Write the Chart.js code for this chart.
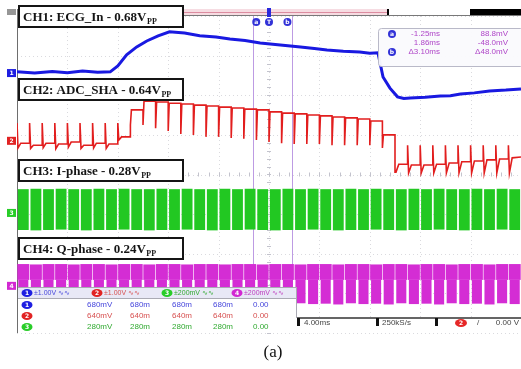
<!DOCTYPE html>
<html>
<head>
<meta charset="utf-8">
<script src="https://cdn.jsdelivr.net/npm/chart.js@4.4.0/dist/chart.umd.min.js"></script>
<style>
  html, body { margin: 0; padding: 0; background: #fff; }
  #wrap { width: 521px; height: 369px; position: relative; }
</style>
</head>
<body>
<div id="wrap"><canvas id="scope"></canvas></div>
<script>
// time in ms (4 ms/div, trigger at 0), vertical in screen divisions from centre

// CH1 ECG_In
const ch1Time = [-20, -18.6, -17.2, -16, -14.8, -13.6, -12.6, -12.0, -11.3, -10.5, -9.7, -8.8, -7.9, -6.7, -5.5, -4.2, -3.1, -1.9, -0.7, 0.9,
                 2.5, 3.6, 4.6, 5.9, 7.2, 8.0, 8.65, 9.05, 9.6, 10.2, 10.7, 11.2, 12.4, 13.6, 14.4, 15.2, 16.3, 17.5, 18.8, 20];
const ch1Div = [2.59, 2.56, 2.60, 2.57, 2.61, 2.58, 2.59, 2.74, 3.02, 3.22, 3.37, 3.50, 3.60, 3.57, 3.50, 3.47, 3.42, 3.38, 3.32, 3.27,
                3.22, 3.18, 3.14, 3.11, 3.09, 3.06, 3.07, 2.46, 2.18, 1.96, 1.92, 1.93, 1.95, 1.98, 1.99, 2.03, 2.06, 2.11, 2.13, 2.16];

// sample instants (1 kHz) shared by CH2 .. CH4
const sampleTime = [-20, -19, -18, -17, -16, -15, -14, -13, -12, -11, -10, -9, -8, -7, -6, -5, -4, -3, -2, -1,
                    0, 1, 2, 3, 4, 5, 6, 7, 8, 9, 10, 11, 12, 13, 14, 15, 16, 17, 18, 19];

// CH2 ADC_SHA: held level, spike tip, dip just after the spike
const ch2Level = [0.79, 0.74, 0.79, 0.77, 0.82, 0.74, 0.79, 0.77, 0.95, 1.63, 1.85, 1.83, 1.80, 1.78, 1.75, 1.73, 1.70, 1.68, 1.65, 1.63,
                  1.58, 1.55, 1.53, 1.50, 1.48, 1.45, 1.43, 1.40, 1.35, 1.00, 0.26, 0.24, 0.24, 0.26, 0.29, 0.32, 0.34, 0.37, 0.39, 0.42];
const ch2Spike = [1.30, 1.30, 1.30, 1.30, 1.30, 1.30, 1.30, 1.30, 1.30, 1.25, 1.25, 1.17, 1.10, 1.02, 1.00, 0.95, 0.95, 0.92, 0.90, 0.87,
                  0.82, 0.79, 0.77, 0.77, 0.77, 0.74, 0.74, 0.74, 0.74, 0.67, 0.06, 0.74, 0.74, 0.74, 0.74, 0.74, 0.74, 0.74, 0.74, 0.74];
const ch2Dip = [0.67, 0.66, 0.68, 0.65, 0.69, 0.66, 0.67, 0.66, 0.87, 1.63, 1.85, 1.83, 1.80, 1.78, 1.75, 1.73, 1.70, 1.68, 1.65, 1.63,
                1.58, 1.55, 1.53, 1.50, 1.48, 1.45, 1.43, 1.40, 1.35, 1.00, 0.06, 0.04, 0.04, 0.04, 0.04, 0.04, 0.04, 0.04, 0.04, 0.04];
const ch2End = 0.44;

// CH3 I-phase burst envelope
const ch3Hi = [-0.37, -0.36, -0.37, -0.36, -0.37, -0.37, -0.36, -0.37, -0.36, -0.37, -0.37, -0.36, -0.37, -0.36, -0.37, -0.37, -0.36, -0.37, -0.36, -0.37,
               -0.37, -0.36, -0.37, -0.36, -0.37, -0.37, -0.36, -0.37, -0.36, -0.37, -0.37, -0.36, -0.37, -0.36, -0.37, -0.37, -0.36, -0.37, -0.36, -0.37];
const ch3Lo = [-1.40, -1.41, -1.40, -1.39, -1.40, -1.41, -1.40, -1.40, -1.39, -1.40, -1.41, -1.40, -1.40, -1.39, -1.40, -1.41, -1.40, -1.40, -1.39, -1.40,
               -1.41, -1.40, -1.40, -1.39, -1.40, -1.41, -1.40, -1.40, -1.39, -1.40, -1.41, -1.40, -1.40, -1.39, -1.40, -1.41, -1.40, -1.40, -1.39, -1.40];

// CH4 Q-phase burst envelope (upper dense part, lower part)
const ch4Hi = [-2.26, -2.27, -2.26, -2.26, -2.27, -2.26, -2.26, -2.27, -2.26, -2.26, -2.27, -2.26, -2.26, -2.27, -2.26, -2.26, -2.27, -2.26, -2.26, -2.27,
               -2.26, -2.26, -2.27, -2.26, -2.26, -2.27, -2.26, -2.26, -2.27, -2.26, -2.26, -2.27, -2.26, -2.26, -2.27, -2.26, -2.26, -2.27, -2.26, -2.26];
const ch4Mid = [-2.66, -2.66, -2.66, -2.66, -2.66, -2.66, -2.66, -2.66, -2.66, -2.66, -2.66, -2.66, -2.66, -2.66, -2.66, -2.66, -2.66, -2.66, -2.66, -2.66,
                -2.66, -2.66, -2.66, -2.66, -2.66, -2.66, -2.66, -2.66, -2.66, -2.66, -2.66, -2.66, -2.66, -2.66, -2.66, -2.66, -2.66, -2.66, -2.66, -2.66];
const ch4Lo = [-3.25, -3.28, -3.25, -3.27, -3.26, -3.28, -3.25, -3.27, -3.26, -3.28, -3.25, -3.27, -3.26, -3.28, -3.25, -3.27, -3.26, -3.28, -3.25, -3.27,
               -3.26, -3.28, -3.25, -3.27, -3.26, -3.28, -3.25, -3.27, -3.26, -3.28, -3.25, -3.27, -3.26, -3.28, -3.25, -3.27, -3.26, -3.28, -3.25, -3.27];

// channel ground markers, cursors
const chMarks = [2.56, 0.85, -0.97, -2.81];
const cursorA = -1.25;
const cursorB = 1.86;

const chColors = ['rgb(30,30,225)', 'rgb(225,35,35)', 'rgb(40,205,40)', 'rgb(210,40,210)'];
const chTextColors = ['rgb(70,70,220)', 'rgb(215,80,80)', 'rgb(50,170,50)', 'rgb(190,60,190)'];
const chLabels = ['CH1: ECG_In - 0.68V', 'CH2: ADC_SHA - 0.64V', 'CH3: I-phase - 0.28V', 'CH4: Q-phase - 0.24V'];
const chScales = ['\u00b11.00V \u223f\u223f', '\u00b11.00V \u223f\u223f', '\u00b1200mV \u223f\u223f', '\u00b1200mV \u223f\u223f'];
const measRows = [
    ['680mV', '680m', '680m', '680m', '0.00'],
    ['640mV', '640m', '640m', '640m', '0.00'],
    ['280mV', '280m', '280m', '280m', '0.00'],
];
const cursorRows = [
    ['a', '-1.25ms', '88.8mV'],
    ['', '1.86ms', '-48.0mV'],
    ['b', '\u03943.10ms', '\u039448.0mV'],
];

function buildCh1() {
    return ch1Time.map((t, i) => ({ x: t, y: ch1Div[i] }));
}

function buildCh2() {
    const pts = [];
    let prev = ch2Level[0];
    sampleTime.forEach((t, i) => {
        pts.push({ x: t, y: prev });
        pts.push({ x: t, y: ch2Spike[i] });
        pts.push({ x: t + 0.08, y: ch2Dip[i] });
        pts.push({ x: t + 0.3, y: ch2Level[i] });
        prev = ch2Level[i];
    });
    pts.push({ x: 20, y: ch2End });
    return pts;
}

function buildBars(lo, hi) {
    return sampleTime.map((t, i) => ({ x: t + 0.5, y: [lo[i], hi[i]] }));
}

// screen background, record bar, graticule, cursor lines
const screenPlugin = {
    id: "screen",
    beforeDraw(chart) {
        const ctx = chart.ctx;
        const { left, right, top, bottom } = chart.chartArea;
        const xs = chart.scales.x;
        const ys = chart.scales.y;
        ctx.save();
        ctx.fillStyle = "#fff";
        ctx.fillRect(0, 0, chart.width, chart.height);

        // record overview bar
        ctx.fillStyle = "rgb(246,220,226)";
        ctx.fillRect(left, 9, 388 - left, 7);
        ctx.strokeStyle = "rgb(220,140,160)";
        ctx.lineWidth = 1;
        ctx.beginPath();
        ctx.moveTo(left, 12.5);
        ctx.lineTo(388, 12.5);
        ctx.stroke();
        ctx.fillStyle = "#000";
        ctx.fillRect(470, 9, right - 470, 7);
        ctx.fillRect(387, 9, 2, 7);
        ctx.strokeStyle = "rgb(120,120,120)";
        ctx.beginPath();
        ctx.moveTo(left, top - 0.5);
        ctx.lineTo(right, top - 0.5);
        ctx.stroke();

        // graticule
        ctx.strokeStyle = "rgb(218,218,222)";
        ctx.setLineDash([1, 3]);
        for (let t = -20; t <= 20; t += 4) {
            const px = Math.round(xs.getPixelForValue(t)) + 0.5;
            ctx.beginPath();
            ctx.moveTo(px, top);
            ctx.lineTo(px, bottom);
            ctx.stroke();
        }
        for (let d = -4; d <= 4; d += 1) {
            const py = Math.round(ys.getPixelForValue(d)) + 0.5;
            ctx.beginPath();
            ctx.moveTo(left, py);
            ctx.lineTo(right, py);
            ctx.stroke();
        }
        ctx.setLineDash([]);

        // centre axis minor ticks
        ctx.strokeStyle = "rgb(195,195,205)";
        const cx = xs.getPixelForValue(0);
        const cy = ys.getPixelForValue(0);
        for (let d = -4; d <= 4; d += 0.2) {
            const py = Math.round(ys.getPixelForValue(d)) + 0.5;
            ctx.beginPath();
            ctx.moveTo(cx - 2, py);
            ctx.lineTo(cx + 2, py);
            ctx.stroke();
        }
        for (let t = -20; t <= 20; t += 0.8) {
            const px = Math.round(xs.getPixelForValue(t)) + 0.5;
            ctx.beginPath();
            ctx.moveTo(px, cy - 2);
            ctx.lineTo(px, cy + 2);
            ctx.stroke();
        }

        // left frame
        ctx.strokeStyle = "rgb(110,110,110)";
        ctx.beginPath();
        ctx.moveTo(left + 0.5, 9);
        ctx.lineTo(left + 0.5, 333);
        ctx.stroke();
        ctx.restore();
    },
    beforeDatasetsDraw(chart) {
        const ctx = chart.ctx;
        const xs = chart.scales.x;
        const { top } = chart.chartArea;
        ctx.save();
        ctx.strokeStyle = "rgba(185,150,225,0.95)";
        ctx.lineWidth = 1;
        [cursorA, cursorB].forEach((c) => {
            const px = Math.round(xs.getPixelForValue(c)) + 0.5;
            ctx.beginPath();
            ctx.moveTo(px, top);
            ctx.lineTo(px, 287);
            ctx.stroke();
        });
        ctx.restore();
    },
};

function badge(ctx, x, y, color, txt, w) {
    ctx.fillStyle = color;
    ctx.beginPath();
    ctx.ellipse(x, y, w / 2, 4, 0, 0, Math.PI * 2);
    ctx.fill();
    ctx.fillStyle = "#fff";
    ctx.font = 'bold 6px "DejaVu Sans"';
    ctx.textAlign = "center";
    ctx.textBaseline = "middle";
    ctx.fillText(txt, x, y + 0.5);
}

// labels, markers, readouts
const overlayPlugin = {
    id: "overlay",
    afterDraw(chart) {
        const ctx = chart.ctx;
        const xs = chart.scales.x;
        const ys = chart.scales.y;
        ctx.save();

        // channel ground tags
        ctx.fillStyle = "rgb(150,150,150)";
        ctx.fillRect(7, 9, 9, 6);
        chMarks.forEach((d, i) => {
            const py = ys.getPixelForValue(d);
            ctx.fillStyle = chColors[i];
            ctx.fillRect(7, py - 4, 9, 8);
            ctx.fillStyle = "#fff";
            ctx.font = 'bold 6px "DejaVu Sans"';
            ctx.textAlign = "center";
            ctx.textBaseline = "middle";
            ctx.fillText(String(i + 1), 11.5, py + 0.5);
        });

        // trigger + cursor handles
        const tx = xs.getPixelForValue(0);
        ctx.fillStyle = "rgb(40,40,220)";
        ctx.fillRect(tx - 2, 8, 4, 9);
        badge(ctx, xs.getPixelForValue(cursorA) + 3, 22, "rgb(50,50,215)", "a", 8);
        badge(ctx, tx, 22, "rgb(50,50,215)", "T", 8);
        badge(ctx, xs.getPixelForValue(cursorB) - 5, 22, "rgb(50,50,215)", "b", 8);

        // channel label boxes
        const boxY = [6, 79, 160, 238];
        chLabels.forEach((txt, i) => {
            const y = boxY[i];
            ctx.fillStyle = "#fff";
            ctx.fillRect(19, y, 164, 21);
            ctx.lineWidth = 2;
            ctx.strokeStyle = "#151515";
            ctx.strokeRect(19, y, 164, 21);
            ctx.fillStyle = "#151515";
            ctx.textAlign = "left";
            ctx.textBaseline = "alphabetic";
            ctx.font = 'bold 13px "Liberation Serif"';
            ctx.fillText(txt, 23, y + 15);
            const w = ctx.measureText(txt).width;
            ctx.font = 'bold 8px "Liberation Serif"';
            ctx.fillText("PP", 23 + w + 0.5, y + 18);
        });

        // cursor readout
        ctx.fillStyle = "rgba(250,250,253,0.97)";
        ctx.strokeStyle = "rgb(185,185,200)";
        ctx.lineWidth = 1;
        ctx.beginPath();
        ctx.roundRect(378.5, 28.5, 145, 38, 3);
        ctx.fill();
        ctx.stroke();
        cursorRows.forEach((row, i) => {
            const y = 34 + i * 9;
            if (row[0]) badge(ctx, 392, y, "rgb(50,50,215)", row[0], 8);
            ctx.fillStyle = "rgb(175,70,200)";
            ctx.font = '8px "Liberation Sans"';
            ctx.textBaseline = "middle";
            ctx.textAlign = "right";
            ctx.fillText(row[1], 440, y);
            ctx.fillText(row[2], 508, y);
        });

        // left info panel
        ctx.fillStyle = "#fff";
        ctx.fillRect(18, 287, 279, 46);
        ctx.fillStyle = "rgb(232,232,246)";
        ctx.fillRect(18, 288, 279, 10);
        ctx.strokeStyle = "rgb(170,170,180)";
        ctx.beginPath();
        ctx.moveTo(18, 287.5);
        ctx.lineTo(297, 287.5);
        ctx.moveTo(18, 298.5);
        ctx.lineTo(297, 298.5);
        ctx.moveTo(296.5, 287);
        ctx.lineTo(296.5, 318);
        ctx.stroke();
        chScales.forEach((s, i) => {
            const bx = 27 + i * 70;
            badge(ctx, bx, 293, chColors[i], String(i + 1), 11);
            ctx.fillStyle = chTextColors[i];
            ctx.font = '7px "Liberation Sans"';
            ctx.textAlign = "left";
            ctx.textBaseline = "middle";
            ctx.fillText(s, bx + 7, 293.5);
        });
        const colX = [87, 130, 172, 213, 253];
        measRows.forEach((row, i) => {
            const y = 305 + i * 11;
            badge(ctx, 27, y, chColors[i], String(i + 1), 11);
            ctx.fillStyle = chTextColors[i];
            ctx.font = '8px "Liberation Sans"';
            ctx.textAlign = "left";
            ctx.textBaseline = "middle";
            row.forEach((v, j) => ctx.fillText(v, colX[j], y));
        });

        // bottom right status line
        ctx.fillStyle = "#fff";
        ctx.fillRect(297, 318, 224, 15);
        ctx.strokeStyle = "rgb(50,50,50)";
        ctx.lineWidth = 1.5;
        ctx.beginPath();
        ctx.moveTo(297, 318);
        ctx.lineTo(521, 318);
        ctx.stroke();
        ctx.fillStyle = "#111";
        [297, 376, 435].forEach((x) => ctx.fillRect(x, 318, 3, 8));
        ctx.fillStyle = "rgb(70,70,70)";
        ctx.font = '8px "Liberation Sans"';
        ctx.textAlign = "left";
        ctx.textBaseline = "middle";
        ctx.fillText("4.00ms", 304, 323);
        ctx.fillText("250kS/s", 382, 323);
        ctx.fillText("/", 477, 323);
        ctx.textAlign = "right";
        ctx.fillText("0.00 V", 519, 323);
        badge(ctx, 461, 323, "rgb(230,40,40)", "2", 12);

        // caption
        ctx.fillStyle = "#111";
        ctx.font = '17px "Liberation Serif"';
        ctx.textAlign = "center";
        ctx.textBaseline = "alphabetic";
        ctx.fillText("(a)", 273, 357);
        ctx.restore();
    },
};

function initScope() {
    const ctx = document.getElementById("scope");
    new Chart(ctx, {
        type: "line",
        data: {
            datasets: [
                {
                    type: "bar",
                    label: "CH3 I-phase",
                    data: buildBars(ch3Lo, ch3Hi),
                    backgroundColor: "rgb(34,200,34)",
                    borderWidth: 0,
                    grouped: false,
                    categoryPercentage: 1,
                    barPercentage: 0.86,
                },
                {
                    type: "bar",
                    label: "CH4 Q-phase upper",
                    data: buildBars(ch4Mid, ch4Hi),
                    backgroundColor: "rgb(212,45,212)",
                    borderWidth: 0,
                    grouped: false,
                    categoryPercentage: 1,
                    barPercentage: 0.95,
                },
                {
                    type: "bar",
                    label: "CH4 Q-phase lower",
                    data: buildBars(ch4Lo, ch4Mid),
                    backgroundColor: "rgb(212,45,212)",
                    borderWidth: 0,
                    grouped: false,
                    categoryPercentage: 1,
                    barPercentage: 0.8,
                },
                {
                    label: "CH2 ADC_SHA",
                    data: buildCh2(),
                    borderColor: "rgb(226,30,30)",
                    borderWidth: 1.6,
                    pointRadius: 0,
                    tension: 0,
                    fill: false,
                },
                {
                    label: "CH1 ECG_In",
                    data: buildCh1(),
                    borderColor: "rgb(25,25,225)",
                    borderWidth: 3,
                    pointRadius: 0,
                    tension: 0,
                    fill: false,
                },
            ],
        },
        options: {
            responsive: true,
            maintainAspectRatio: false,
            animation: false,
            layout: { padding: { left: 17, top: 16, right: 0, bottom: 36 } },
            plugins: {
                legend: { display: false },
                tooltip: { enabled: false },
            },
            scales: {
                x: { type: "linear", min: -20, max: 20, display: false, offset: false },
                y: { min: -4, max: 4, display: false },
            },
        },
        plugins: [screenPlugin, overlayPlugin],
    });
}

document.addEventListener("DOMContentLoaded", initScope);
</script>
</body>
</html>
